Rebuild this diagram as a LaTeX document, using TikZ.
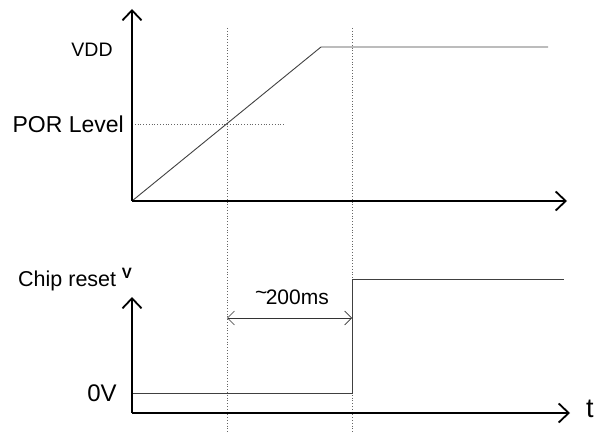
\documentclass[tikz,border=0pt]{standalone}
\usepackage{fontspec}
\setmainfont{Liberation Sans}
\usetikzlibrary{arrows.meta}
\begin{document}
\begin{tikzpicture}[x=1pt,y=-1pt,
  axis/.style={line width=1.8pt, black, -{Straight Barb[length=10pt,width=19pt,line width=1.8pt]}},
  sig/.style={line width=0.9pt, black!75},
  guide/.style={line width=0.8pt, dotted, black!60},
  dim/.style={line width=0.7pt, black!80, {Straight Barb[length=7pt,width=14pt,line width=0.7pt]}-{Straight Barb[length=7pt,width=14pt,line width=0.7pt]}},
  lbl/.style={inner sep=0pt}]
\useasboundingbox (0,0) rectangle (595,433);
% coordinates
\coordinate (O1) at (132,201);
\coordinate (Y1) at (132,9);
\coordinate (X1) at (567,201);
\coordinate (R1) at (321,47);
\coordinate (R2) at (548,47);
\coordinate (P1) at (132,124);
\coordinate (P2) at (284,124);
\coordinate (G1a) at (227,28);
\coordinate (G1b) at (227,432);
\coordinate (G2a) at (352,28);
\coordinate (G2b) at (352,432);
\coordinate (O2) at (132,413);
\coordinate (Y2) at (132,297);
\coordinate (X2) at (570,413);
\coordinate (S0) at (132,393);
\coordinate (S1) at (352,393);
\coordinate (S2) at (352,279);
\coordinate (S3) at (564,279);
\coordinate (D1) at (227,318);
\coordinate (D2) at (352,318);
% guides
\draw[guide] (G1a) -- (G1b);
\draw[guide] (G2a) -- (G2b);
\draw[guide] (P1) -- (P2);
% signals
\draw[sig] (O1) -- (R1) -- (R2);
\draw[sig] (S0) -- (S1) -- (S2) -- (S3);
\draw[dim] (D1) -- (D2);
% axes
\draw[axis] (O1) -- (Y1);
\draw[axis] (O1) -- (X1);
\draw[axis] (O2) -- (Y2);
\draw[axis] (O2) -- (X2);
% labels
\node[lbl, font=\fontsize{19.5}{19.5}\selectfont] (vdd) at (92,50) {VDD};
\node[lbl, anchor=east, font=\fontsize{23}{23}\selectfont] (por) at (124,124) {POR Level};
\node[lbl, anchor=base west, font=\fontsize{21.5}{21.5}\selectfont] (chip) at (18,286) {Chip reset};
\node[lbl, anchor=base, font=\fontsize{15}{15}\selectfont\bfseries] (vv) at (127,278) {V};
\node[lbl, font=\fontsize{24}{24}\selectfont] (zero) at (102,393) {0V};
\node[lbl, anchor=base west, font=\fontsize{27}{27}\selectfont] (t) at (586,417) {t};
\node[lbl, anchor=base, font=\fontsize{21}{21}\selectfont] (ms) at (292,305) {\raisebox{0.28em}{\textasciitilde}\kern-0.08em 200ms};
\end{tikzpicture}
\end{document}
